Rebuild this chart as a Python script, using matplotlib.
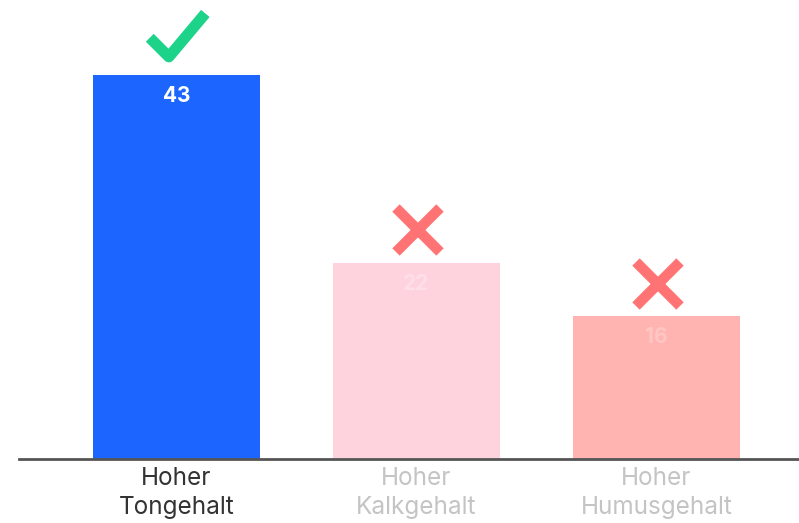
import matplotlib.pyplot as plt
from matplotlib.path import Path

kategorien = ['Hoher\nTongehalt', 'Hoher\nKalkgehalt', 'Hoher\nHumusgehalt']
werte = [43, 22, 16]
richtig = [True, False, False]

bar_farben = ['#1c66ff', '#ffd3de', '#ffb4b1']
wert_farben = ['#ffffff', '#ffdfe7', '#ffc6c4']
label_farben = ['#333333', '#c4c4c4', '#c4c4c4']

plt.rcParams['font.family'] = ['Inter', 'DejaVu Sans']

fig = plt.figure(figsize=(7.99, 5.23), dpi=100)
ax = fig.add_axes([19 / 799, 64 / 523, 780 / 799, 459 / 523])

x = range(len(werte))
ax.bar(x, werte, width=0.696, color=bar_farben, zorder=2)

haken = Path([(-1.0, 0.05), (-0.45, -0.5), (0.6, 0.75)],
             [Path.MOVETO, Path.LINETO, Path.LINETO])

for i, (w, ok) in enumerate(zip(werte, richtig)):
    ax.annotate(str(w), (i, w), xytext=(0, -21), textcoords='offset pixels',
                ha='center', va='center', fontsize=15, fontweight='bold',
                color=wert_farben[i])
    if ok:
        ax.plot(i + 0.03, w + 4.0, marker=haken, markersize=50, mfc='none',
                mec='#1dd389', mew=8, clip_on=False)
    else:
        ax.plot(i + 0.007, w + 3.6, marker='x', markersize=32,
                mec='#ff7374', mew=7.5, clip_on=False)

ax.set_xlim(-0.656, 2.594)
ax.set_ylim(0, 459 / 8.93)

ax.set_xticks(list(x))
ax.set_xticklabels(kategorien, fontsize=17.5, linespacing=1.3)
for t, c in zip(ax.get_xticklabels(), label_farben):
    t.set_color(c)
ax.tick_params(axis='x', length=0, pad=6)
ax.set_yticks([])

for s in ['top', 'right', 'left']:
    ax.spines[s].set_visible(False)
ax.spines['bottom'].set_color('#555555')
ax.spines['bottom'].set_linewidth(2)
ax.spines['bottom'].set_zorder(3)

fig.savefig('out.png', dpi=100)
